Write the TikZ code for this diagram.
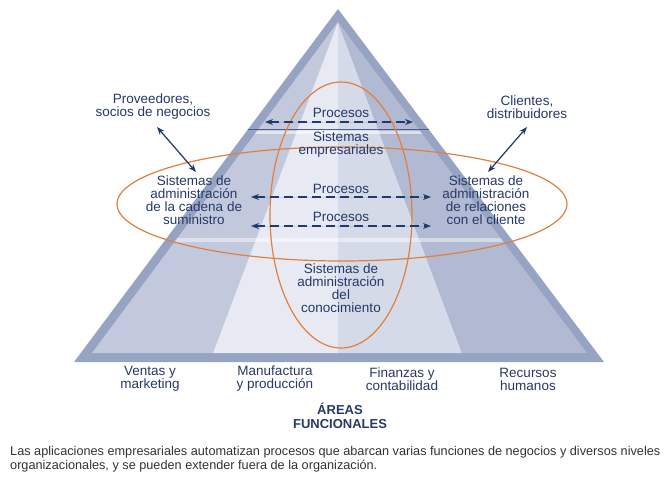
\documentclass[tikz,border=0pt]{standalone}
\usepackage{fontspec}
\setmainfont{Liberation Sans}
\newfontfamily\capfont{Liberation Sans}
\usepackage{tikz}
\usetikzlibrary{arrows.meta}
\definecolor{pyrborder}{HTML}{97A3C3}
\definecolor{secA}{HTML}{C3C9DC}
\definecolor{secB}{HTML}{E7EAF3}
\definecolor{secC}{HTML}{D5DAE8}
\definecolor{secD}{HTML}{B2BAD3}
\definecolor{bandline}{HTML}{4E5E8E}
\definecolor{ovalcol}{HTML}{E0803F}
\definecolor{navy}{HTML}{1F3A6C}
\definecolor{navytext}{HTML}{263A68}
\definecolor{captext}{HTML}{333333}
\tikzset{
    lbl/.style={font=\fontsize{13.5}{13}\selectfont, text=navytext, align=center, inner sep=0pt},
    oval/.style={draw=ovalcol, line width=1.2pt},
    procarrow/.style={{Stealth[length=8pt,width=6pt]}-{Stealth[length=8pt,width=6pt]}, draw=navy, fill=navy, line width=1.2pt, dash pattern=on 9pt off 5pt},
    linkarrow/.style={{Stealth[length=8pt,width=6pt]}-{Stealth[length=8pt,width=6pt]}, draw=navy, fill=navy, line width=1.2pt}
}

\begin{document}
\begin{tikzpicture}[x=1pt,y=-1pt]
\useasboundingbox (0,0) rectangle (665,477);
\fill[white] (0,0) rectangle (665,477);
\coordinate (top) at (338,9);
\coordinate (bl) at (74,362);
\coordinate (br) at (604,362);
\coordinate (itop) at (338,22);
\fill[pyrborder] (top) -- (bl) -- (br) -- cycle;
\foreach \xa/\xb/\c in {92/213/secA, 213/338/secB, 338/462/secC, 462/587/secD}{
    \fill[\c] (itop) -- (\xa,353) -- (\xb,353) -- cycle;
}
\begin{scope}
\clip (itop) -- (92,353) -- (587,353) -- cycle;
\fill[white, opacity=0.55] (0,131) rectangle (665,134);
\fill[white, opacity=0.45] (0,238) rectangle (665,242);
\end{scope}
\begin{scope}
\clip (top) -- (bl) -- (br) -- cycle;
\draw[bandline, line width=0.9pt] (0,129.5) -- (665,129.5);
\end{scope}
\draw[oval] (341,215) ellipse [x radius=71pt, y radius=133pt];
\draw[oval] (342,204) ellipse [x radius=225pt, y radius=57pt];
\foreach \x/\y/\p/\labeltext in {341/113/procA/{Procesos}, 341/145/erp/{Sistemas\\empresariales}, 341/189/procB/{Procesos}, 341/217/procC/{Procesos}, 194/200/scm/{Sistemas de\\administración\\de la cadena de\\suministro}, 486/200/crm/{Sistemas de\\administración\\de relaciones\\con el cliente}, 341/288/kms/{Sistemas de\\administración\\del\\conocimiento}, 153/107/prov/{Proveedores,\\socios de negocios}, 527/107/cli/{Clientes,\\distribuidores}, 150/379/ventas/{Ventas y\\marketing}, 275/379/manuf/{Manufactura\\y producción}, 402/379/fin/{Finanzas y\\contabilidad}, 528/379/rrhh/{Recursos\\humanos}}{
    \node[lbl] (\p) at (\x,\y) {\labeltext};
}
\node[lbl, font=\fontsize{13}{14}\selectfont\bfseries] (areas) at (340,416) {ÁREAS\\FUNCIONALES};
\node[anchor=north west, align=left, inner sep=0pt, text=captext, font=\capfont\fontsize{12.7}{14}\selectfont] (caption) at (10,446) {Las aplicaciones empresariales automatizan procesos que abarcan varias funciones de negocios y diversos niveles\\organizacionales, y se pueden extender fuera de la organización.};
\foreach \p/\xl/\xr/\y in {a/265/413/122, b/251/431/197, c/251/431/226}{
    \coordinate (pl\p) at (\xl,\y);
    \coordinate (pr\p) at (\xr,\y);
    \draw[procarrow] (pl\p) -- (pr\p);
}
\coordinate (provtip) at (157,127);
\coordinate (scmtip) at (196,172);
\coordinate (clitip) at (527,127);
\coordinate (crmtip) at (488,172);
\draw[linkarrow] (provtip) -- (scmtip);
\draw[linkarrow] (clitip) -- (crmtip);
\end{tikzpicture}
\end{document}
